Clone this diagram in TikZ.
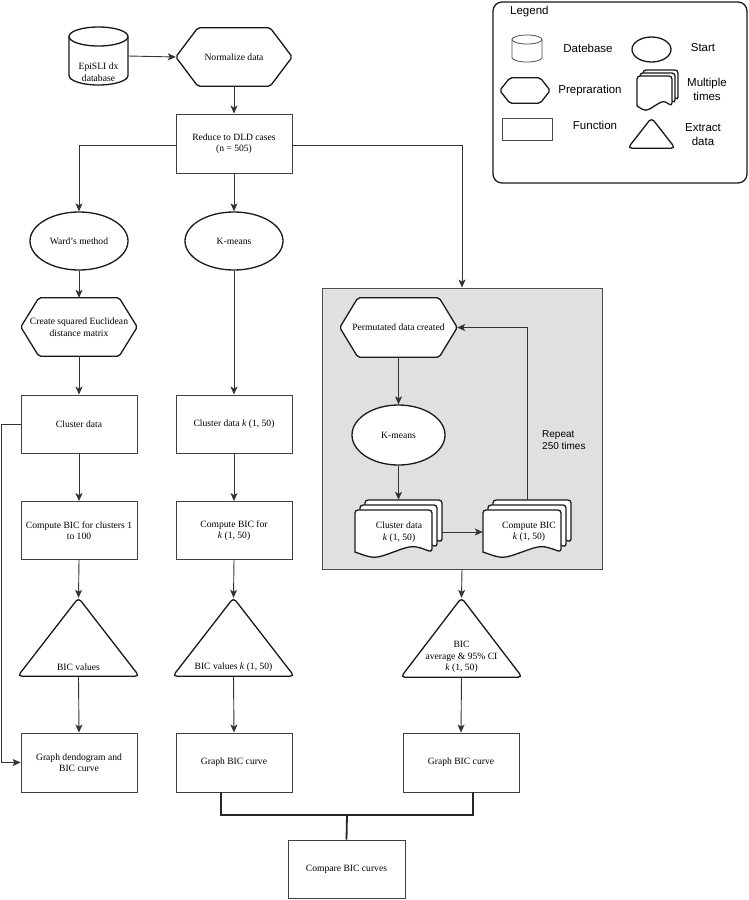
\documentclass[tikz,border=0pt]{standalone}
\usepackage{fontspec}
\setmainfont{Liberation Serif}
\setsansfont{Liberation Sans}
\usetikzlibrary{arrows.meta,shapes.geometric,calc}
\pgfdeclarelayer{back}
\pgfdeclarelayer{bg}
\pgfsetlayers{back,bg,main}
\newcommand\serifsz{\fontsize{9.6}{11.5}\selectfont}
\newcommand\legsz{\sffamily\fontsize{11.5}{13.5}\selectfont}
\newcommand\hexsh[3][shp]{%
  \begin{pgfonlayer}{bg}
  \draw[#1,fill=white,rounded corners=2pt] (#2.west) -- ([xshift=#3]#2.north west) -- ([xshift=-#3]#2.north east) -- (#2.east) -- ([xshift=-#3]#2.south east) -- ([xshift=#3]#2.south west) -- cycle;
  \end{pgfonlayer}}
\newcommand\trish[2][shp]{%
  \begin{pgfonlayer}{bg}
  \draw[#1,fill=white,rounded corners=4pt] (#2.north) -- (#2.south east) -- (#2.south west) -- cycle;
  \end{pgfonlayer}}
\newcommand\docpage[5]{%
  \draw[shp,fill=white] (#1,{#4-#5}) [rounded corners=3pt] -- (#1,#2) -- (#3,#2) -- (#3,{#4-#5}) [sharp corners] .. controls ({#3-(#3-#1)/4},{#4-2.4*#5}) .. ({(#1+#3)/2},{#4-#5}) .. controls ({#1+(#3-#1)/4},{#4+0.4*#5}) .. (#1,{#4-#5}) -- cycle;}
\begin{document}
\begin{tikzpicture}[x=1pt,y=-1pt,
  shp/.style={draw=black!90,line width=1.3pt},
  thin shp/.style={draw=black!70,line width=0.8pt},
  boxst/.style={draw=black!75,line width=0.9pt,fill=white,minimum width=116pt,minimum height=58pt,inner sep=1pt,align=center,font=\serifsz},
  hexn/.style={minimum width=116pt,minimum height=58pt,inner sep=0pt,align=center,font=\serifsz},
  ell/.style={ellipse,draw=black!90,line width=1.3pt,fill=white,minimum width=98pt,minimum height=58pt,inner sep=0pt,font=\serifsz},
  txt/.style={inner sep=1pt,align=center,font=\serifsz},
  legtxt/.style={inner sep=1pt,align=center,font=\legsz},
  conn/.style={draw=black!80,line width=0.9pt,-{Stealth[length=8pt,width=7pt,inset=2pt]}},
  brk/.style={draw=black!85,line width=1.8pt}]
\useasboundingbox (0,0) rectangle (749,900);

% gray loop box
\begin{pgfonlayer}{back}
\node[draw=black!70,line width=0.9pt,fill=black!12,minimum width=280pt,minimum height=281pt,inner sep=0pt] (loop) at (462,428.5) {};
\end{pgfonlayer}

% database cylinder
\node[minimum width=59pt,minimum height=58pt,inner sep=0pt] (db) at (98.5,56) {};
\begin{pgfonlayer}{bg}
\draw[shp,fill=white] (69,36.5) -- (69,75.5) arc[start angle=180,end angle=360,x radius=29.5pt,y radius=9.5pt] -- (128,36.5);
\draw[shp,fill=white] (98.5,36.5) ellipse [x radius=29.5pt,y radius=9.5pt];
\end{pgfonlayer}
\node[txt] (dbt) at (98.5,72) {EpiSLI dx\\database};

\node[hexn] (norm) at (234,57) {Normalize data};
\hexsh{norm}{22pt}
\node[boxst,minimum height=59pt] (red) at (234,143.5) {Reduce to DLD cases\\(n = 505)};

% left column
\node[ell] (ward) at (79,241) {Ward's method};
\node[hexn] (cre) at (79,327) {Create squared Euclidean\\distance matrix};
\hexsh{cre}{18pt}
\node[boxst] (cl1) at (79,424) {Cluster data};
\node[boxst] (cb1) at (79,530.5) {Compute BIC for clusters 1\\to 100};
\node[minimum width=121pt,minimum height=78pt,inner sep=0pt] (t1) at (78.5,637) {};
\trish{t1}
\node[txt] (t1t) at (78.5,667) {BIC values};
\node[boxst,minimum height=59pt] (g1) at (79,762.5) {Graph dendogram and\\BIC curve};

% middle column
\node[ell] (km) at (234,241) {K-means};
\node[boxst] (cl2) at (234,424) {Cluster data \textit{k} (1, 50)};
\node[boxst] (cb2) at (234,530.5) {Compute BIC for\\\textit{k} (1, 50)};
\node[minimum width=121pt,minimum height=78pt,inner sep=0pt] (t2) at (233.5,637) {};
\trish{t2}
\node[txt] (t2t) at (233.5,667) {BIC values \textit{k} (1, 50)};
\node[boxst,minimum height=59pt] (g2) at (234,762.5) {Graph BIC curve};

% loop contents
\node[hexn,minimum width=117pt,minimum height=59pt] (perm) at (398.5,327.5) {Permutated data created};
\hexsh{perm}{18pt}
\node[ell,minimum width=93pt,minimum height=60pt] (km2) at (398.5,435) {K-means};
\node[minimum width=87pt,minimum height=57pt,inner sep=0pt] (cdoc) at (398.5,528.5) {};
\node[minimum width=88pt,minimum height=57pt,inner sep=0pt] (bdoc) at (527,528.5) {};
\begin{pgfonlayer}{bg}
\docpage{365}{500}{442}{547}{5}
\docpage{360}{505}{437}{552}{5}
\docpage{355}{510}{432}{557}{5}
\docpage{493}{500}{571}{547}{5}
\docpage{488}{505}{566}{552}{5}
\docpage{483}{510}{561}{557}{5}
\end{pgfonlayer}
\node[txt] (cdoct) at (399,532) {Cluster data\\\textit{k} (1, 50)};
\node[txt] (bdoct) at (529,532) {Compute BIC\\\textit{k} (1, 50)};
\node[inner sep=1pt,align=left,anchor=west,font=\sffamily\fontsize{10}{11.5}\selectfont] (rep) at (541,440) {Repeat\\250 times};

% right column
\node[minimum width=121pt,minimum height=79pt,inner sep=0pt] (t3) at (461.5,637.5) {};
\trish{t3}
\node[txt] (t3t) at (461.5,657) {BIC\\average \& 95\% CI\\\textit{k} (1, 50)};
\node[boxst,minimum height=59pt] (g3) at (461,762.5) {Graph BIC curve};

\node[boxst,minimum width=117pt] (cmp) at (346.5,869) {Compare BIC curves};

% connectors
\draw[conn] (db.east) -- (norm.west);
\draw[conn] (norm.south) -- (red.north);
\draw[conn] ([yshift=-1.5pt]red.west) -| (ward.north);
\draw[conn] (red.south) -- (km.north);
\draw[conn] ([yshift=-1.5pt]red.east) -| (loop.north);
\draw[conn] (ward.south) -- (cre.north);
\draw[conn] (cre.south) -- (cl1.north);
\draw[conn] (cl1.south) -- (cb1.north);
\draw[conn] (cb1.south) -- (t1.north);
\draw[conn] (t1.south) -- (g1.north);
\draw[conn] (cl1.west) -- ++(-19,0) |- (g1.west);
\draw[conn] (km.south) -- (cl2.north);
\draw[conn] (cl2.south) -- (cb2.north);
\draw[conn] (cb2.south) -- (t2.north);
\draw[conn] (t2.south) -- (g2.north);
\draw[conn] (perm.south) -- (km2.north);
\draw[conn] (km2.south) -- (cdoc.north);
\draw[conn] ([yshift=-3.5pt]cdoc.east) -- ([yshift=-3.5pt]bdoc.west);
\draw[conn] (bdoc.north) |- (perm.east);
\draw[conn] (loop.south) -- (t3.north);
\draw[conn] (t3.south) -- (g3.north);
\coordinate (j) at (347,815);
\draw[brk] ([xshift=-13pt]g2.south) |- (j) -| ([xshift=12pt]g3.south);
\draw[brk] (j) -- (cmp.north);

% legend
\node[draw=black!90,line width=1.3pt,rounded corners=9pt,minimum width=254pt,minimum height=181pt,inner sep=0pt] (leg) at (620,92.5) {};
\node[legtxt,anchor=west] (legt) at (509,12) {Legend};
\draw[thin shp,fill=white] (512,39.5) -- (512,57.5) arc[start angle=180,end angle=360,x radius=15pt,y radius=4.5pt] -- (542,39.5);
\draw[thin shp,fill=white] (527,39.5) ellipse [x radius=15pt,y radius=4.5pt];
\node[legtxt] (l1) at (588,48) {Datebase};
\node[ellipse,draw=black!90,line width=1.3pt,minimum width=39pt,minimum height=25pt,inner sep=0pt] (lell) at (651.5,49.5) {};
\node[legtxt] (l2) at (703,48) {Start};
\node[minimum width=50pt,minimum height=25pt,inner sep=0pt] (lhex) at (525,90.5) {};
\hexsh{lhex}{10pt}
\node[legtxt] (l3) at (590,91) {Prepraration};
\begin{pgfonlayer}{bg}
\docpage{643}{70}{678}{104}{4}
\docpage{640}{73}{675}{107}{4}
\docpage{637}{76}{672}{110}{4}
\end{pgfonlayer}
\node[legtxt] (l4) at (707,89.5) {Multiple\\times};
\node[draw=black!70,line width=0.8pt,minimum width=50pt,minimum height=22pt,inner sep=0pt] (lrect) at (527,129) {};
\node[legtxt] (l5) at (595,125) {Function};
\node[minimum width=47pt,minimum height=30pt,inner sep=0pt] (ltri) at (651.5,133) {};
\trish{ltri}
\node[legtxt] (l6) at (703,134.5) {Extract\\data};
\end{tikzpicture}
\end{document}
